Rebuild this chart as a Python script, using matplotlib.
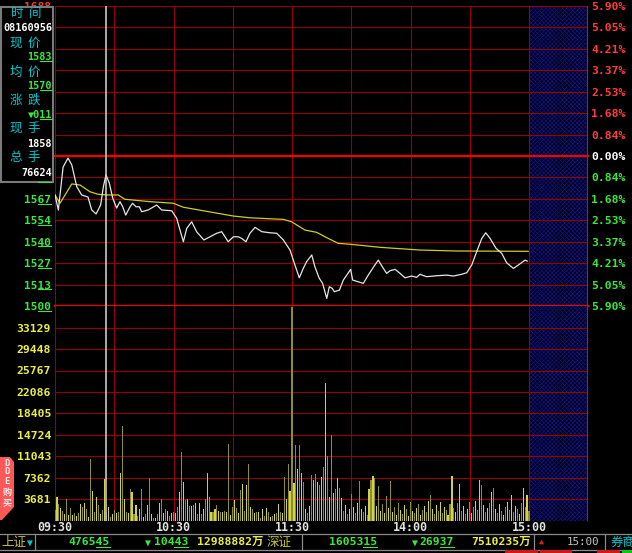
import matplotlib
matplotlib.use('Agg')
import matplotlib.pyplot as plt
from matplotlib.patches import Rectangle, Polygon
from matplotlib.lines import Line2D

W, H = 632, 553
MONO = 'DejaVu Sans Mono'
CJK = 'Noto Sans CJK SC'
plt.rcParams['hatch.linewidth'] = 0.5

# ---- data ----
prev_close = 1594
cursor_min = 26

price_min = [0, 1.7, 4.1, 6.6, 8.5, 11.0, 13.5, 16.7, 18.6, 20.8, 23.1, 24.5, 25.8, 27.5, 29.2,
             31.2, 32.9, 34.3, 35.8, 38.0, 39.3, 41.0, 42.7, 43.9, 47.2, 51.5, 54.0, 59.1, 61.6,
             63.3, 65.0, 66.7, 69.2, 71.7, 75.4, 78.5, 81.9, 84.4, 87.7, 90.3, 92.8, 94.5, 96.7,
             98.7, 101.3, 104.7, 108.9, 112.3, 115.6, 119.0, 121.5, 123.7, 125.7, 127.4, 130.0,
             131.6, 133.8, 135.5, 137.6, 138.9, 140.4, 141.4, 144.0, 146.0, 149.7, 150.7, 153.6,
             156.1, 158.6, 161.2, 163.7, 165.9, 167.9, 169.6, 172.2, 174.7, 177.2, 180.6, 183.1,
             184.8, 188.2, 193.3, 198.3, 201.7, 205.9, 208.5, 211.0, 213.5, 216.1, 218.1, 220.3,
             223.3, 226.2, 228.7, 232.1, 234.6, 238.0, 239.1]
price_val = [1569.6, 1560.2, 1587.1, 1592.7, 1588.4, 1574.8, 1569.6, 1568.3, 1560.2, 1557.7, 1563.3,
             1574.8, 1582.1, 1577.1, 1567.7, 1561.4, 1565.4, 1562.2, 1557.0, 1562.2, 1564.4, 1562.2,
             1562.2, 1559.1, 1560.2, 1563.3, 1560.2, 1559.7, 1555.0, 1547.6, 1540.3, 1548.7, 1552.8,
             1546.6, 1541.4, 1543.4, 1545.6, 1546.6, 1540.3, 1543.4, 1543.4, 1542.4, 1540.3, 1545.6,
             1549.3, 1546.6, 1545.9, 1545.6, 1541.4, 1535.1, 1525.7, 1517.7, 1523.6, 1527.8, 1532.0,
             1524.6, 1517.4, 1514.2, 1504.8, 1512.1, 1511.1, 1509.0, 1510.0, 1516.3, 1523.0, 1516.3,
             1515.2, 1514.2, 1519.4, 1524.3, 1528.8, 1524.3, 1520.5, 1522.1, 1523.0, 1520.5, 1517.7,
             1518.8, 1518.0, 1519.9, 1518.4, 1519.0, 1519.4, 1518.8, 1519.9, 1520.9, 1525.7, 1534.0,
             1542.4, 1545.9, 1542.4, 1536.2, 1533.0, 1527.1, 1523.6, 1525.7, 1528.8, 1528.2]

avg_min = [0, 2.5, 5.1, 8.5, 12.7, 17.7, 21.9, 26.2, 32.0, 35.4, 48.1, 59.9, 65.0, 75.1, 90.3,
           98.7, 115.6, 119.8, 126.6, 132.5, 136.7, 143.4, 149.7, 164.6, 184.8, 203.4, 239.6]
avg_val = [1569.6, 1564.4, 1569.6, 1576.5, 1575.8, 1571.6, 1570.0, 1569.6, 1569.6, 1566.9, 1565.4,
           1564.4, 1561.9, 1559.7, 1556.4, 1555.3, 1554.3, 1552.8, 1547.6, 1546.2, 1543.4, 1539.3,
           1538.7, 1536.8, 1535.1, 1534.5, 1534.3]

# one bar per minute, 09:30 .. 15:00
volume = [
    1890, 4130, 2920, 2180, 1600, 1200, 3780, 1030, 2120, 910,
    1380, 860, 1380, 2800, 2410, 3100, 2060, 570, 10660, 5110,
    1550, 4130, 2750, 1200, 1890, 7220, 1550, 2410, 640, 1200,
    1890, 1380, 1550, 8200, 16290, 3780, 1550, 1380, 5380, 4870,
    1080, 2630, 860, 2010, 5500, 570, 1080, 2750, 7340, 1080,
    520, 520, 1200, 3100, 3780, 1380, 2010, 1720, 860, 1380,
    1430, 1380, 2410, 4940, 11820, 6660, 3610, 3730, 2580, 2580,
    2630, 3100, 1200, 3100, 1200, 2060, 3780, 8260, 4080, 1430,
    1550, 2060, 2750, 1720, 1430, 1550, 1720, 1430, 13070, 980,
    2410, 3610, 2180, 1380, 5280, 6310, 1720, 6140, 9800, 2360,
    2060, 1380, 1430, 1430, 460, 2010, 860, 2120, 1550, 640,
    860, 1200, 1380, 2800, 1550, 1380, 7450, 3730, 9750, 5110,
    36640, 6540, 12900, 8940, 12900, 8200, 6590, 2060, 1380, 2580,
    7860, 6930, 7960, 6710, 6190, 7520, 9240, 23560, 11060, 4130,
    14740, 4760, 5450, 7400, 5620, 3960, 1720, 2750, 1200, 2060,
    4590, 2410, 1380, 3100, 6760, 2060, 1550, 2580, 1030, 5450,
    7050, 7740, 7280, 2580, 6020, 1720, 2920, 1380, 4250, 2240,
    6830, 1550, 2410, 1030, 3100, 1890, 1200, 2750, 2060, 860,
    3270, 1720, 1380, 2240, 2920, 1030, 1890, 2580, 1550, 3440,
    4420, 2060, 1200, 2750, 1720, 3270, 1380, 2410, 1890, 1030,
    2920, 7620, 2240, 1550, 3100, 6310, 1720, 2580, 1200, 2060,
    3270, 1380, 2410, 3440, 1890, 7050, 6070, 2750, 1550, 2240,
    3100, 4940, 5680, 2060, 1380, 2920, 1720, 1030, 2410, 3270,
    1890, 4470, 1550, 2580, 2060, 1200, 3100, 5680, 2410, 4420,
    1720]

price_labels = ['1500', '1513', '1527', '1540', '1554', '1567', '1581', '1594',
                '1607', '1621', '1634', '1648', '1661', '1675', '1688']
pct_labels = ['5.90%', '5.05%', '4.21%', '3.37%', '2.53%', '1.68%', '0.84%', '0.00%',
              '0.84%', '1.68%', '2.53%', '3.37%', '4.21%', '5.05%', '5.90%']
vol_step = 3681
vol_labels = ['3681', '7362', '11043', '14724', '18405', '22086', '25767', '29448', '33129']
time_ticks = [0, 60, 120, 180, 240]
time_labels = ['09:30', '10:30', '11:30', '14:00', '15:00']

info_names = ['时  间', '现  价', '均  价', '涨  跌', '现  手', '总  手']
info_values = ['08160956', '1583', '1570', '▼011', '1858', '76624']

# ---- colours ----
GRID = '#950000'
RED = '#f00000'
GREEN = '#3ce63c'
YELLOW = '#ecec48'
CYAN = '#00c8d0'
OLIVE = '#c8c040'
HATCH = '#10109a'

fig = plt.figure(figsize=(W / 100, H / 100), dpi=100, facecolor='black')


def fx(x):
    return x / W


def fy(y):
    return 1 - y / H


def ftext(x, y, s, **kw):
    kw.setdefault('va', 'center')
    kw.setdefault('zorder', 11)
    return fig.text(fx(x), fy(y), s, **kw)


def uline(xr, y, n, size, color):
    cw = 0.602 * size * 100 / 72
    yu = y + size * 100 / 72 * 0.42
    fig.add_artist(Line2D([fx(xr - n * cw), fx(xr)], [fy(yu)] * 2, color=color, lw=0.8, zorder=12))


x0, x1 = 55, 588.25
y_top, y_mid, y_bot = 5.85, 306.15, 520.65
ax_p = fig.add_axes([fx(x0), fy(y_mid), fx(x1) - fx(x0), (y_mid - y_top) / H])
ax_v = fig.add_axes([fx(x0), fy(y_bot), fx(x1) - fx(x0), (y_bot - y_mid) / H])

lo = prev_close * (1 - 0.059)
hi = prev_close * (1 + 0.059)
price_ticks = [prev_close * (1 + k * 0.059 / 7) for k in range(-7, 8)]
vol_max = vol_step * 10

for ax in (ax_p, ax_v):
    ax.set_facecolor('black')
    ax.set_xlim(0, 270)
    for sp in ax.spines.values():
        sp.set_visible(False)
    ax.set_xticks([])
    for t in range(0, 241, 30):
        ax.axvline(t, color=GRID, lw=0.8, zorder=1)
    ax.axvline(270, color=RED, lw=1.5, zorder=6)

ax_p.set_ylim(lo, hi)
ax_v.set_ylim(0, vol_max)

# closed session area
ax_p.add_patch(Rectangle((240, lo), 30, hi - lo, facecolor='black', edgecolor=HATCH,
                         hatch='x' * 8, lw=0, zorder=0.5))
ax_v.add_patch(Rectangle((240, 0), 30, vol_max, facecolor='black', edgecolor=HATCH,
                         hatch='x' * 8, lw=0, zorder=0.5))

for k, v in enumerate(price_ticks):
    if k in (0, 7):
        ax_p.axhline(v, color=RED, lw=1.6, zorder=2, clip_on=False)
    else:
        ax_p.axhline(v, color=GRID, lw=0.8, zorder=1)
for k in range(0, 10):
    ax_v.axhline(k * vol_step, color=GRID, lw=0.8, zorder=1)

# price and average lines
ax_p.plot(avg_min, avg_val, color='#d2cc1e', lw=0.9, zorder=4)
ax_p.plot(price_min, price_val, color='#e6e6e6', lw=0.9, zorder=5)

# volume bars
minutes = list(range(len(volume)))
bar_cols = ['#2a2aff' if m == cursor_min else ('#d2d24a' if m % 2 else '#8e8e2c') for m in minutes]
ax_v.bar(minutes, volume, width=0.55, color=bar_cols, linewidth=0, zorder=3)

# cursor line
for ax in (ax_p, ax_v):
    ax.axvline(cursor_min, color='#d8d8d8', lw=1.1, zorder=7)

# left price labels
ax_p.set_yticks(price_ticks, labels=price_labels)
ax_p.tick_params(axis='y', length=0, pad=2.9)
for k, lbl in enumerate(ax_p.get_yticklabels()):
    lbl.set_fontfamily(MONO)
    lbl.set_fontweight('bold')
    lbl.set_fontsize(8)
    lbl.set_color(GREEN if k < 7 else ('white' if k == 7 else '#ff3838'))
for k, v in enumerate(price_ticks[:7]):
    ypx = y_mid - (v - lo) / (hi - lo) * (y_mid - y_top)
    uline(51, ypx, 2, 8, GREEN)

# right percent labels
ax_r = ax_p.twinx()
ax_r.set_ylim(lo, hi)
ax_r.patch.set_visible(False)
for sp in ax_r.spines.values():
    sp.set_visible(False)
ax_r.set_yticks(price_ticks, labels=pct_labels)
ax_r.tick_params(axis='y', length=0, pad=2.2)
for k, lbl in enumerate(ax_r.get_yticklabels()):
    lbl.set_fontfamily(MONO)
    lbl.set_fontweight('bold')
    lbl.set_fontsize(8.2)
    lbl.set_color(GREEN if k < 7 else ('white' if k == 7 else '#ff3c3c'))

# volume labels
ax_v.set_yticks([vol_step * (k + 1) for k in range(len(vol_labels))], labels=vol_labels)
ax_v.tick_params(axis='y', length=0, pad=2.9)
for lbl in ax_v.get_yticklabels():
    lbl.set_fontfamily(MONO)
    lbl.set_fontweight('bold')
    lbl.set_fontsize(8.2)
    lbl.set_color(YELLOW)

# time labels
for t, s in zip(time_ticks, time_labels):
    ftext(x0 + t * 1.975, 527.5, s, ha='center', color='#e2e2e2', family=MONO,
          weight='bold', fontsize=8.4)

# info box (values at cursor)
fig.add_artist(Rectangle((fx(1), fy(182)), fx(53) - fx(1), (182 - 7) / H, transform=fig.transFigure,
                         facecolor='black', edgecolor='#7a7a7a', lw=1.5, zorder=10))
name_y = [13.5, 43, 72, 100, 129, 158]
val_y = [28, 57, 86, 115, 144, 173]
val_cols = ['white', GREEN, GREEN, GREEN, 'white', 'white']
for i, (nm, ny) in enumerate(zip(info_names, name_y)):
    ftext(26 if i == 0 else 10, ny, nm, ha='center' if i == 0 else 'left', color=CYAN,
          family=CJK, fontsize=9)
for i, (val, vy, vc) in enumerate(zip(info_values, val_y, val_cols)):
    sz = 7.4 if i == 0 else 7.3
    ftext(52, vy, val, ha='right', color=vc, family=MONO, weight='bold', fontsize=sz)
    if i in (1, 2, 3):
        uline(52, vy, 2, sz, vc)

# DDE badge
badge = [(0, 457), (10, 457), (14, 462), (14, 507), (2, 520), (0, 520)]
fig.add_artist(Polygon([(fx(x), fy(y)) for x, y in badge], closed=True, transform=fig.transFigure,
                       facecolor='#ff5858', edgecolor='none', zorder=10))
for ch, cy in zip(['D', 'D', 'E', '购', '买'], [463, 472, 481, 492, 503]):
    ftext(7, cy, ch, ha='center', color='#ffe8e8', family=[MONO, CJK], weight='bold',
          fontsize=6.5)

# status bar
for yy in (533.5, 549.5):
    fig.add_artist(Line2D([0, 1], [fy(yy)] * 2, color='#8a8a8a', lw=0.9, zorder=10))
for xx in (35, 302, 534, 605):
    fig.add_artist(Line2D([fx(xx)] * 2, [fy(533.5), fy(549.5)], color='#8a8a8a', lw=0.9, zorder=10))

ftext(1.5, 542, '上证', ha='left', color=OLIVE, family=CJK, fontsize=9)
ftext(30, 542.5, '▼', ha='center', color=CYAN, family=MONO, fontsize=7)
ftext(110, 542, '476545', ha='right', color=GREEN, family=MONO, weight='bold', fontsize=8.2)
uline(110, 542, 2, 8.2, GREEN)
ftext(148, 543, '▼', ha='center', color=GREEN, family=MONO, fontsize=7)
ftext(188, 542, '10443', ha='right', color=GREEN, family=MONO, weight='bold', fontsize=8.2)
uline(188, 542, 2, 8.2, GREEN)
ftext(263, 542, '12988882万', ha='right', color=YELLOW, family=[MONO, CJK], weight='bold', fontsize=8.2)
ftext(267, 542, '深证', ha='left', color=OLIVE, family=CJK, fontsize=9)
ftext(377, 542, '1605315', ha='right', color=GREEN, family=MONO, weight='bold', fontsize=8.2)
uline(377, 542, 2, 8.2, GREEN)
ftext(415, 543, '▼', ha='center', color=GREEN, family=MONO, fontsize=7)
ftext(454, 542, '26937', ha='right', color=GREEN, family=MONO, weight='bold', fontsize=8.2)
uline(454, 542, 2, 8.2, GREEN)
ftext(531, 542, '7510235万', ha='right', color=YELLOW, family=[MONO, CJK], weight='bold', fontsize=8.2)
ftext(541, 541, '▲', ha='center', color='#e02020', family=MONO, fontsize=6)
ftext(567, 542, '15:00', ha='left', color='#c4c4c4', family=MONO, fontsize=7.8)
ftext(611, 542, '券商', ha='left', color=CYAN, family=CJK, fontsize=9)

# cut-off button row at the very bottom
for bx0, bx1, bc in [(505, 538, '#d01818'), (540, 572, '#d01818'), (597, 620, '#d01818'),
                     (622, 632, '#18c018')]:
    fig.add_artist(Rectangle((fx(bx0), 0), fx(bx1) - fx(bx0), 3.5 / H, transform=fig.transFigure,
                             facecolor=bc, edgecolor='none', zorder=10))

fig.savefig('out.png', dpi=100, facecolor='black')
